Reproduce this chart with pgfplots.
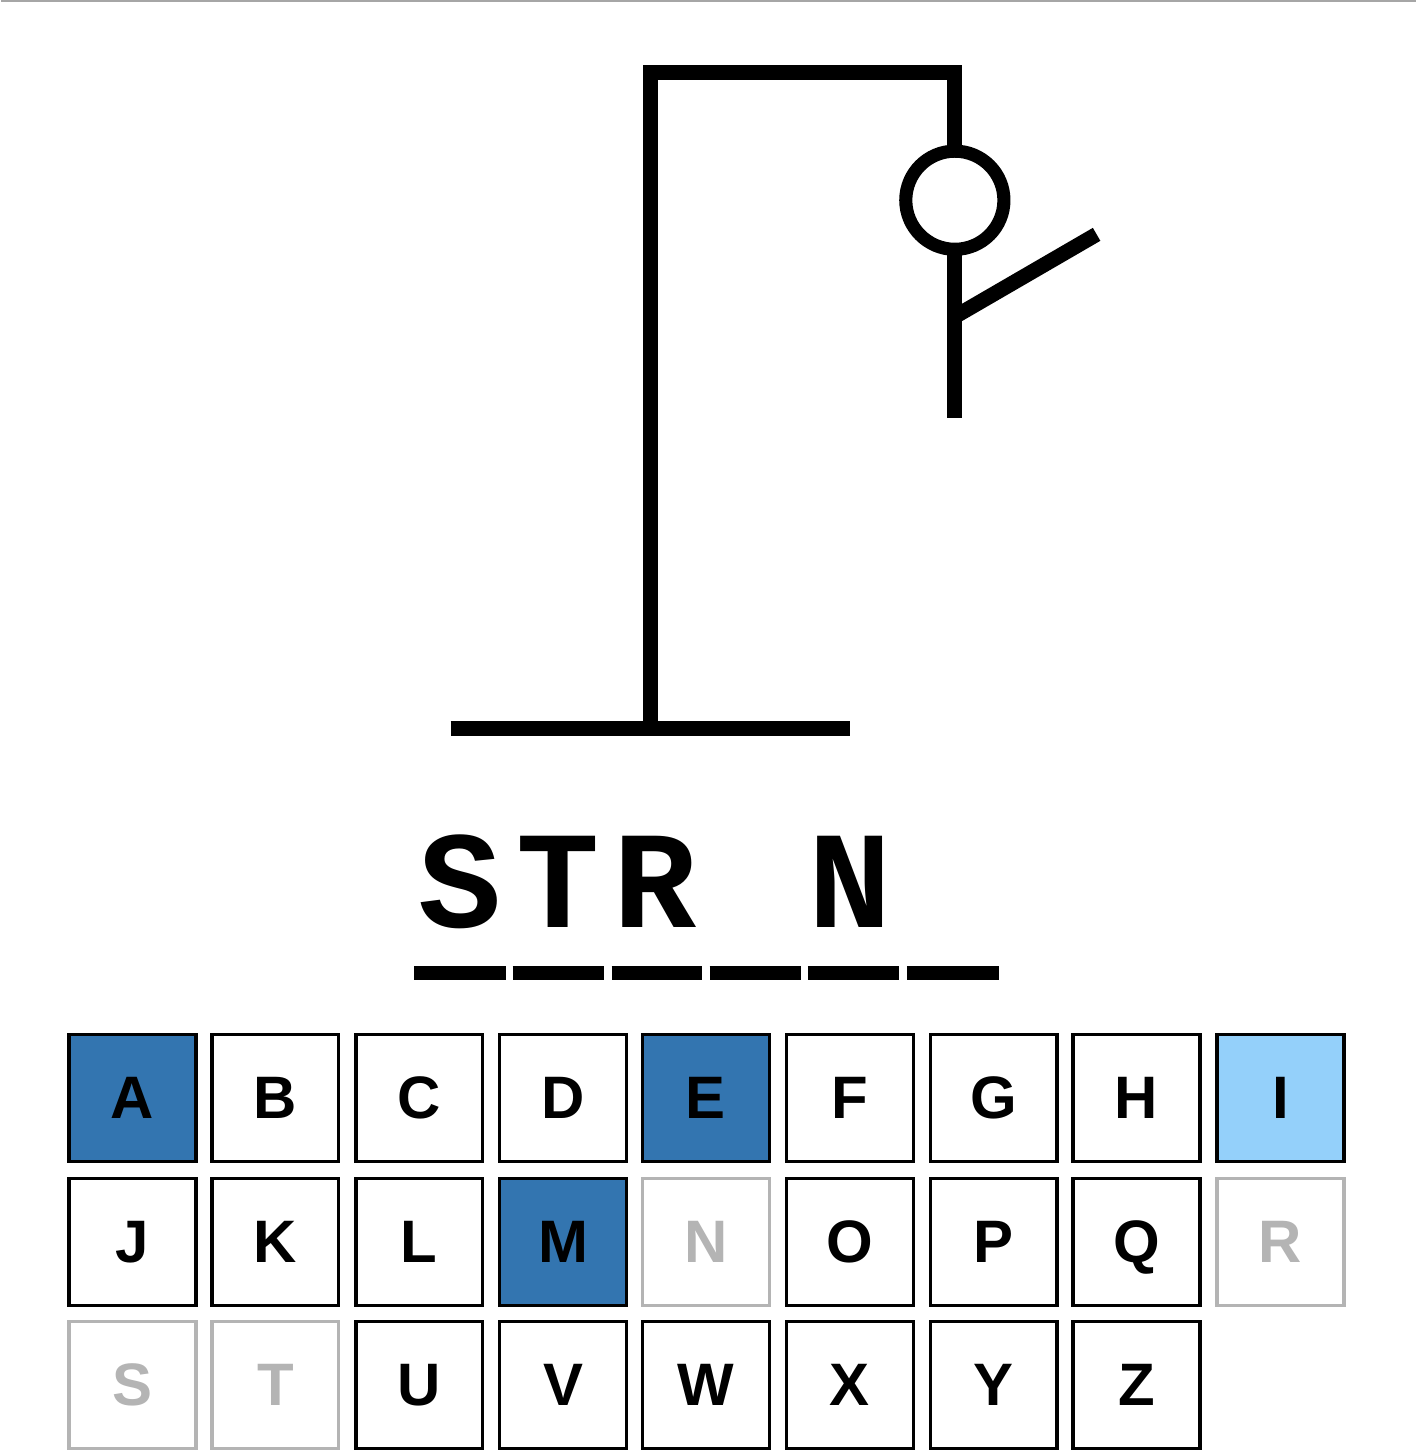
\documentclass[border=0pt]{standalone}
\usepackage{pgfplots}
\pgfplotsset{compat=1.18}
\usepackage{fontspec}
\setmainfont{Liberation Sans}
\newfontfamily\mono{Liberation Mono}
\definecolor{dblue}{RGB}{51,117,176}
\definecolor{lblue}{RGB}{148,208,250}
\definecolor{gr}{RGB}{180,180,180}
\newcommand\key[8]{%
\addplot[draw=#6,fill=#5,line width=0.9pt] coordinates {(#1,#3)(#2,#3)(#2,#4)(#1,#4)} -- cycle;
\node[anchor=base,text=#7,font=\fontsize{16}{16}\selectfont\bfseries] at (axis cs:{(#1+#2)/2},{#4-40}) {#8};}
\newcommand\dash[2]{\addplot[black,line width=3.6pt] coordinates {(#1,913)(#2,913)};}
\newcommand\wl[2]{\node[anchor=base,font=\fontsize{37}{37}\selectfont\mono\bfseries] at (axis cs:#1,870) {#2};}
\begin{document}
\begin{tikzpicture}
\begin{axis}[width=13.28cm,height=14.5cm,scale only axis,hide axis,
 xmin=0,xmax=1328,ymin=0,ymax=1450,y dir=reverse,clip=false]
\addplot[gray!70,line width=0.5pt] coordinates {(0,1)(1328,1)};
% gallows
\addplot[black,line width=4pt] coordinates {(422,684)(797,684)};
\addplot[black,line width=4pt] coordinates {(609,684)(609,68)(895,68)(895,140)};
\draw[black,line width=3.5pt] (axis cs:895,188) circle[radius=13.1pt];
\addplot[black,line width=4pt] coordinates {(895,235)(895,392)};
\addplot[black,line width=4pt] coordinates {(897,296)(1028,220)};
% word
\dash{388}{474}\dash{480}{566}\dash{573}{658}\dash{665}{751}\dash{757}{843}\dash{850}{936}
\wl{431}{S}\wl{523}{T}\wl{614}{R}\wl{797}{N}
% keys
\key{64}{183}{971}{1090}{dblue}{black}{black}{A}
\key{198}{317}{971}{1090}{white}{black}{black}{B}
\key{333}{452}{971}{1090}{white}{black}{black}{C}
\key{468}{587}{971}{1090}{white}{black}{black}{D}
\key{602}{721}{971}{1090}{dblue}{black}{black}{E}
\key{737}{856}{971}{1090}{white}{black}{black}{F}
\key{872}{991}{971}{1090}{white}{black}{black}{G}
\key{1006}{1125}{971}{1090}{white}{black}{black}{H}
\key{1141}{1260}{971}{1090}{lblue}{black}{black}{I}
\key{64}{183}{1106}{1225}{white}{black}{black}{J}
\key{198}{317}{1106}{1225}{white}{black}{black}{K}
\key{333}{452}{1106}{1225}{white}{black}{black}{L}
\key{468}{587}{1106}{1225}{dblue}{black}{black}{M}
\key{602}{721}{1106}{1225}{white}{gr}{gr}{N}
\key{737}{856}{1106}{1225}{white}{black}{black}{O}
\key{872}{991}{1106}{1225}{white}{black}{black}{P}
\key{1006}{1125}{1106}{1225}{white}{black}{black}{Q}
\key{1141}{1260}{1106}{1225}{white}{gr}{gr}{R}
\key{64}{183}{1240}{1359}{white}{gr}{gr}{S}
\key{198}{317}{1240}{1359}{white}{gr}{gr}{T}
\key{333}{452}{1240}{1359}{white}{black}{black}{U}
\key{468}{587}{1240}{1359}{white}{black}{black}{V}
\key{602}{721}{1240}{1359}{white}{black}{black}{W}
\key{737}{856}{1240}{1359}{white}{black}{black}{X}
\key{872}{991}{1240}{1359}{white}{black}{black}{Y}
\key{1006}{1125}{1240}{1359}{white}{black}{black}{Z}
\end{axis}
\end{tikzpicture}
\end{document}
